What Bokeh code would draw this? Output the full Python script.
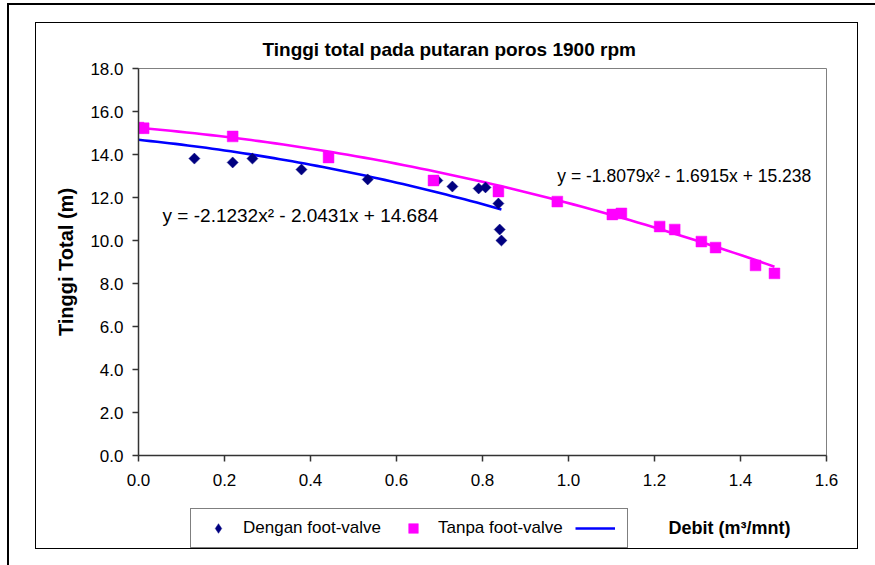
import numpy as np
from bokeh.plotting import figure
from bokeh.layouts import column
from bokeh.models import (Range1d, FixedTicker, PrintfTickFormatter, Label, Div,
                          Legend, LegendItem)
from bokeh.embed import file_html
from bokeh.resources import INLINE

# ---------------- data ----------------
title_text = "Tinggi total pada putaran poros 1900 rpm"
x_label = "Debit (m³/mnt)"
y_label = "Tinggi Total (m)"

x_ticks = [0.0, 0.2, 0.4, 0.6, 0.8, 1.0, 1.2, 1.4, 1.6]
y_ticks = [0.0, 2.0, 4.0, 6.0, 8.0, 10.0, 12.0, 14.0, 16.0, 18.0]

dengan_x = [0.130, 0.219, 0.265, 0.379, 0.533, 0.695, 0.730, 0.791, 0.807, 0.837, 0.840, 0.844]
dengan_y = [13.81, 13.63, 13.81, 13.30, 12.84, 12.79, 12.51, 12.42, 12.47, 11.72, 10.51, 10.00]

tanpa_x = [0.000, 0.012, 0.219, 0.442, 0.686, 0.837, 0.974, 1.102, 1.123, 1.212, 1.247, 1.309, 1.342, 1.435, 1.479]
tanpa_y = [15.25, 15.22, 14.84, 13.86, 12.79, 12.28, 11.81, 11.21, 11.26, 10.65, 10.51, 9.95, 9.67, 8.84, 8.47]

# trendline coefficients as printed on the chart (a, b, c for a x^2 + b x + c)
dengan_coef = [-2.1232, -2.0431, 14.684]
tanpa_coef = [-1.8079, -1.6915, 15.238]
dengan_eq = "y = -2.1232x² - 2.0431x + 14.684"
tanpa_eq = "y = -1.8079x² - 1.6915x + 15.238"

legend_labels = ["Dengan foot-valve", "Tanpa foot-valve", ""]

FONT = "Liberation Sans"
NAVY, MAGENTA, BLUE = "#000080", "#FF00FF", "#0000FF"

xd = np.linspace(0, max(dengan_x), 60)
xt = np.linspace(0, max(tanpa_x), 80)
yd_fit = np.polyval(dengan_coef, xd)
yt_fit = np.polyval(tanpa_coef, xt)

# ---------------- main chart ----------------
p = figure(width=875, height=495, output_backend="svg", toolbar_location=None,
           x_range=Range1d(0, 1.6), y_range=Range1d(0, 18),
           min_border_left=138, min_border_right=49,
           min_border_top=68, min_border_bottom=40,
           background_fill_color="white", border_fill_color="white",
           outline_line_color="#808080", outline_line_width=1)
p.grid.visible = False

p.title.text = title_text
p.title.align = "left"
p.title.offset = 124
p.title.standoff = 18
p.title.text_font = FONT
p.title.text_font_size = "19px"
p.title.text_font_style = "bold"
p.title.text_color = "black"

for ax in (p.xaxis[0], p.yaxis[0]):
    ax.axis_line_color = "#333333"
    ax.axis_line_width = 1.5
    ax.major_tick_line_color = "#333333"
    ax.major_tick_line_width = 1.5
    ax.major_tick_out = 6
    ax.major_tick_in = 0
    ax.minor_tick_out = 0
    ax.minor_tick_in = 0
    ax.major_label_text_font = FONT
    ax.major_label_text_font_size = "17px"
    ax.major_label_text_color = "black"
    ax.formatter = PrintfTickFormatter(format="%.1f")

p.xaxis.ticker = FixedTicker(ticks=x_ticks)
p.yaxis.ticker = FixedTicker(ticks=y_ticks)
p.xaxis.major_label_standoff = 12
p.yaxis.major_label_standoff = 9

p.yaxis.axis_label = y_label
p.yaxis.axis_label_text_font = FONT
p.yaxis.axis_label_text_font_size = "20px"
p.yaxis.axis_label_text_font_style = "bold"
p.yaxis.axis_label_text_color = "black"
p.yaxis.axis_label_standoff = 10

p.line(xt, yt_fit, line_color=MAGENTA, line_width=2.6)
p.line(xd, yd_fit, line_color=BLUE, line_width=2.6)
p.scatter(dengan_x, dengan_y, marker="square", angle=np.pi / 4, size=7.8,
          fill_color=NAVY, line_color=NAVY, line_width=0.5)
p.scatter(tanpa_x, tanpa_y, marker="square", size=10.8,
          fill_color=MAGENTA, line_color=MAGENTA, line_width=0.5)

p.add_layout(Label(x=0.056, y=11.16, text=dengan_eq, text_font=FONT,
                   text_font_size="19px", text_baseline="middle", text_align="left",
                   text_color="black"))
p.add_layout(Label(x=0.974, y=13.02, text=tanpa_eq, text_font=FONT,
                   text_font_size="17.5px", text_baseline="middle", text_align="left",
                   text_color="black"))

# ---------------- strip below: legend + x-axis title ----------------
# (its frame is aligned with the chart's frame: x from 138 to 826 px)
q = figure(width=875, height=70, output_backend="svg", toolbar_location=None,
           x_range=Range1d(0, 1.6), y_range=Range1d(1000, 1001),
           x_axis_type=None, y_axis_type=None,
           min_border_left=0, min_border_right=0, min_border_top=0, min_border_bottom=0,
           background_fill_color="white", border_fill_color="white",
           outline_line_color=None)
q.grid.visible = False
# same series as above; the strip's y range keeps them out of sight, they only feed the legend
g_d = q.scatter(dengan_x, dengan_y, marker="diamond", size=11,
                fill_color=NAVY, line_color=NAVY, line_width=0.5)
g_t = q.scatter(tanpa_x, tanpa_y, marker="square", size=10.5,
                fill_color=MAGENTA, line_color=MAGENTA, line_width=0.5)
g_l = q.line(xd, yd_fit, line_color=BLUE, line_width=2.6)

legend = Legend(items=[LegendItem(label=legend_labels[0], renderers=[g_d]),
                       LegendItem(label=legend_labels[1], renderers=[g_t]),
                       LegendItem(label=legend_labels[2], renderers=[g_l])],
                orientation="horizontal", location=(52, 17),
                padding=7, spacing=12, glyph_width=40, glyph_height=24,
                label_standoff=5, label_width=0, margin=0,
                label_text_font=FONT, label_text_font_size="17px",
                label_text_color="black",
                border_line_color="black", border_line_width=1,
                background_fill_color="white", background_fill_alpha=1)
q.add_layout(legend, "center")
q.add_layout(Label(x=530, y=38, x_units="screen", y_units="screen", text=x_label,
                   text_font=FONT, text_font_size="18px", text_font_style="bold",
                   text_align="left", text_baseline="middle", text_color="black"))

# ---------------- chart-area frames ----------------
frames = Div(width=875, height=0, margin=0, text=(
    '<div style="position:fixed;left:35px;top:22px;width:823px;height:527px;'
    'border:1.5px solid #000;box-sizing:border-box;pointer-events:none;"></div>'
    '<div style="position:fixed;left:7px;top:3px;width:868px;height:562px;'
    'border-left:2px solid #000;border-top:2px solid #000;box-sizing:border-box;'
    'pointer-events:none;"></div>'))

root = column(p, q, frames, spacing=0)
open("out.html", "w").write(file_html(root, INLINE))
